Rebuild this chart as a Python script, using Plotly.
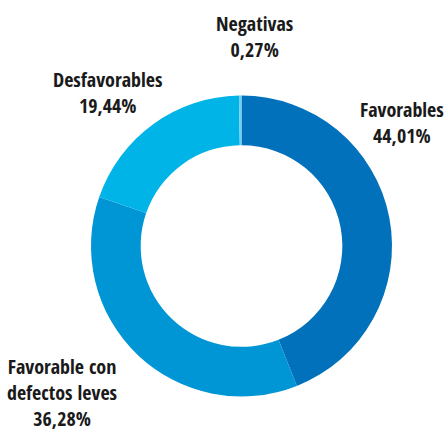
import plotly.graph_objects as go

# Resultado de las evaluaciones (porcentaje del total)
categorias = ["Favorables", "Favorable con<br>defectos leves", "Desfavorables", "Negativas"]
valores = [44.01, 36.28, 19.44, 0.27]
colores = ["#0071BA", "#0096D6", "#00B4E8", "#6FCFF4"]

# Posición de cada etiqueta (px en el lienzo de 445x432)
etiqueta_x = [402, 62, 107, 255]
etiqueta_y = [122, 392, 92, 36]

W, H = 445, 432
cx, cy, r = 241.5, 246, 150.5

fig = go.Figure(go.Pie(
    labels=categorias,
    values=valores,
    hole=0.67,
    sort=False,
    direction="clockwise",
    rotation=0,
    marker=dict(colors=colores, line=dict(width=0)),
    textinfo="none",
    hoverinfo="label+percent",
    domain=dict(x=[(cx - r) / W, (cx + r) / W], y=[(H - cy - r) / H, (H - cy + r) / H]),
    showlegend=False,
))

for cat, v, x, y in zip(categorias, valores, etiqueta_x, etiqueta_y):
    pct = f"{v:.2f}".replace(".", ",") + "%"
    fig.add_annotation(
        x=x / W, y=1 - y / H, xref="paper", yref="paper",
        text=f"{cat}<br>{pct}", showarrow=False,
        xanchor="center", yanchor="middle", align="center",
        font=dict(family="Open Sans Condensed, Roboto Condensed, sans-serif", weight="bold",
                  size=20, color="#1a1a1a"),
    )

fig.update_layout(
    width=W, height=H,
    margin=dict(l=0, r=0, t=0, b=0),
    paper_bgcolor="white", plot_bgcolor="white",
)

fig.write_html("out.html")
